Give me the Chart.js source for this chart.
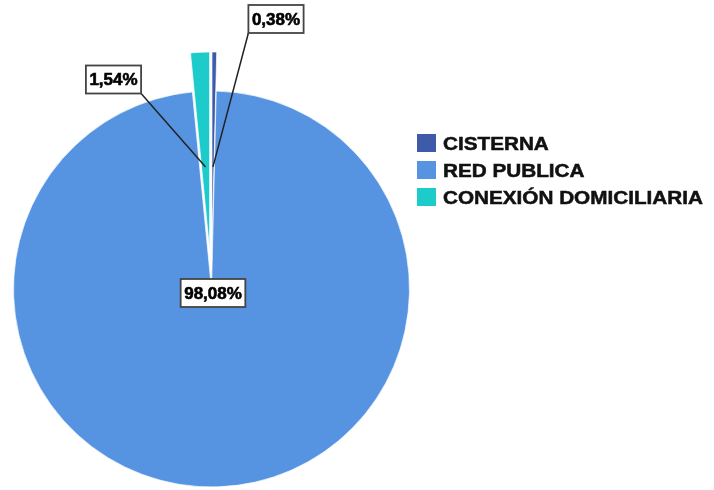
<!DOCTYPE html>
<html>
<head>
<meta charset="utf-8">
<script src="https://cdn.jsdelivr.net/npm/chart.js@4/dist/chart.umd.min.js"></script>
<style>
  html, body { margin: 0; padding: 0; background: #fff; overflow: hidden; }
  #wrap { position: absolute; left: 0; top: 0; width: 714px; height: 490px; }
  #legend { position: absolute; left: 417px; top: 129px; font-family: "Liberation Sans", Arial, sans-serif; }
  #legend .row { display: flex; align-items: center; height: 27px; }
  #legend .sw { width: 19px; height: 18px; margin-right: 7px; flex: none; }
  #legend .txt { font-size: 18px; font-weight: bold; color: #111; -webkit-text-stroke: 0.5px #111; transform: scaleX(1.15); transform-origin: left center; white-space: nowrap; position: relative; top: 2px; }
</style>
</head>
<body>
<div id="wrap"><canvas id="pie"></canvas></div>
<div id="legend"></div>
<script>
// Abastecimiento de agua: porcentaje por tipo
const categories = ['CISTERNA', 'RED PUBLICA', 'CONEXIÓN DOMICILIARIA'];
const percentages = [0.38, 98.08, 1.54];
const sliceColors = ['#3F5AA8', '#5694E2', '#1ECBCB'];

// separación de las porciones pequeñas (px)
const explodeBy = [39, 0, 39];

// cajas de etiqueta relativas al centro de la torta, y esquina donde nace la guía
const callouts = [
  { dx: 64.5, dy: -270, corner: 'bottomLeft' },
  { dx: 1.5, dy: 4, corner: null },
  { dx: -98, dy: -209.5, corner: 'bottomRight' },
];

function fmtPct(v) {
  return v.toFixed(2).replace('.', ',') + '%';
}

const explodePlugin = {
  id: 'explode',
  beforeDatasetDraw(chart, args) {
    const ctx = chart.ctx;
    args.meta.data.forEach((arc, i) => {
      const shift = explodeBy[i] || 0;
      const mid = (arc.startAngle + arc.endAngle) / 2;
      ctx.save();
      ctx.translate(Math.cos(mid) * shift, Math.sin(mid) * shift);
      arc.draw(ctx);
      ctx.restore();
    });
    return false;
  },
};

const calloutPlugin = {
  id: 'callouts',
  afterDatasetsDraw(chart) {
    const ctx = chart.ctx;
    const arcs = chart.getDatasetMeta(0).data;
    ctx.save();
    ctx.font = 'bold 17px "Liberation Sans", Arial, sans-serif';
    ctx.textAlign = 'center';
    ctx.textBaseline = 'middle';
    arcs.forEach((arc, i) => {
      const c = callouts[i];
      const text = fmtPct(percentages[i]);
      const w = ctx.measureText(text).width + 7;
      const h = 28;
      const bx = arc.x + c.dx;
      const by = arc.y + c.dy;
      const left = bx - w / 2;
      const top = by - h / 2;

      if (c.corner) {
        const mid = (arc.startAngle + arc.endAngle) / 2;
        const r = (explodeBy[i] || 0) + arc.outerRadius * 0.42;
        const ax = arc.x + Math.cos(mid) * r;
        const ay = arc.y + Math.sin(mid) * r;
        const sx = c.corner === 'bottomLeft' ? left : left + w;
        const sy = top + h;
        ctx.beginPath();
        ctx.moveTo(sx, sy);
        ctx.lineTo(ax, ay);
        ctx.strokeStyle = '#222';
        ctx.lineWidth = 1.5;
        ctx.stroke();
      }

      ctx.fillStyle = '#fff';
      ctx.fillRect(left, top, w, h);
      ctx.strokeStyle = '#444';
      ctx.lineWidth = 1.8;
      ctx.strokeRect(left, top, w, h);
      ctx.fillStyle = '#000';
      ctx.strokeStyle = '#000';
      ctx.lineWidth = 0.6;
      ctx.fillText(text, bx, by + 1);
      ctx.strokeText(text, bx, by + 1);
    });
    ctx.restore();
  },
};

new Chart(document.getElementById('pie'), {
  type: 'pie',
  data: {
    labels: categories,
    datasets: [{
      data: percentages,
      backgroundColor: sliceColors,
      borderColor: '#fff',
      borderWidth: 0.7,
      hoverOffset: 0,
      clip: false,
    }],
  },
  options: {
    responsive: true,
    maintainAspectRatio: false,
    animation: false,
    events: [],
    radius: 198,
    layout: { padding: { left: 0, right: 291, top: 88, bottom: 0 } },
    plugins: {
      legend: { display: false },
      tooltip: { enabled: false },
    },
  },
  plugins: [explodePlugin, calloutPlugin],
});

const legendEl = document.getElementById('legend');
categories.forEach((name, i) => {
  const row = document.createElement('div');
  row.className = 'row';
  row.innerHTML = `<span class="sw" style="background:${sliceColors[i]}"></span><span class="txt">${name}</span>`;
  legendEl.appendChild(row);
});
</script>
</body>
</html>
